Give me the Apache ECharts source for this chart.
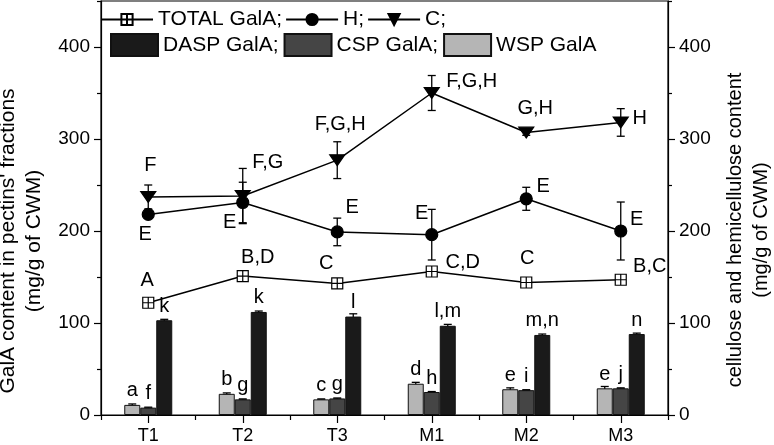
<!DOCTYPE html>
<html>
<head>
<meta charset="utf-8">
<script src="https://cdn.jsdelivr.net/npm/echarts@6/dist/echarts.min.js"></script>
<style>
html,body{margin:0;padding:0;background:#fff;}
#chart{width:774px;height:445px;}
</style>
</head>
<body>
<div id="chart"></div>
<script>
// ---- data ----
const categories = ['T1', 'T2', 'T3', 'M1', 'M2', 'M3'];
const wspGalA = [11, 23, 17, 34, 28, 29];
const wspErr = [1, 1, 0.5, 1.5, 1.5, 2];
const cspGalA = [8, 17, 18, 25, 27, 29];
const cspErr = [0.5, 0.5, 0.5, 0.5, 0.5, 0.5];
const daspGalA = [103, 112, 107, 97, 87, 88];
const daspErr = [1, 1, 3, 1.5, 1, 1];
const totalGalA = [122, 151, 143, 156, 144, 147];
const totalErr = [3, 3, 3, 3, 3, 3];
const hValues = [218, 231, 199, 196, 235, 200];
const hErr = [2, 22, 15, 27.5, 12.5, 31.5];
const cValues = [237, 238, 277, 350, 307, 318];
const cErr = [13, 30, 20, 19, 3, 15];
const wspLetters = ['a', 'b', 'c', 'd', 'e', 'e'];
const cspLetters = ['f', 'g', 'g', 'h', 'i', 'j'];
const daspLetters = ['k', 'k', 'l', 'l,m', 'm,n', 'n'];
const totalLetters = ['A', 'B,D', 'C', 'C,D', 'C', 'B,C'];
const hLetters = ['E', 'E', 'E', 'E', 'E', 'E'];
const cLetters = ['F', 'F,G', 'F,G,H', 'F,G,H', 'G,H', 'H'];
const yTickValues = [0, 100, 200, 300, 400];
const yMinorValues = [50, 150, 250, 350, 450];

// ---- layout (label offsets in px) ----
const cOff = [[2, -31], [25, -34], [3, -36], [40, -12], [9, -24], [19, -4]];
const hOff = [[-3, 20], [-13, 20], [15, -24], [-10, -21], [17, -12], [16, -12]];
const tOff = [[-1, -22], [15, -19], [-11, -20], [31, -9], [1, -24], [29, -13]];

const FONT = '"Liberation Sans", Arial, Helvetica, sans-serif';
const chart = echarts.init(document.getElementById('chart'), null, {renderer: 'canvas'});

function errSeries(vals, errs, offset, z) {
  return {
    type: 'custom',
    z: z,
    silent: true,
    data: vals.map((v, i) => [i, v, errs[i]]),
    renderItem: function (params, api) {
      const x = api.value(0), y = api.value(1), e = api.value(2);
      const top = api.coord([x, y + e]);
      const bot = api.coord([x, y - e]);
      const cx = top[0] + offset;
      const hw = 4;
      const st = {stroke: '#000', lineWidth: 1.3};
      return {
        type: 'group',
        children: [
          {type: 'line', shape: {x1: cx, y1: top[1], x2: cx, y2: bot[1]}, style: st},
          {type: 'line', shape: {x1: cx - hw, y1: top[1], x2: cx + hw, y2: top[1]}, style: st},
          {type: 'line', shape: {x1: cx - hw, y1: bot[1], x2: cx + hw, y2: bot[1]}, style: st}
        ]
      };
    }
  };
}

function barSeries(name, vals, letters, color) {
  return {
    name: name,
    type: 'bar',
    barWidth: 16,
    barGap: '0%',
    z: 2,
    data: vals,
    itemStyle: {color: color, borderColor: '#111', borderWidth: 1},
    label: {
      show: true, position: 'top', distance: 4,
      formatter: p => letters[p.dataIndex],
      color: '#000', fontSize: 20, fontFamily: FONT
    }
  };
}

function lineSeries(name, vals, letters, offs, symbol, size, fill) {
  return {
    name: name,
    type: 'line',
    z: 4,
    symbol: symbol,
    symbolSize: size,
    symbolKeepAspect: true,
    lineStyle: {color: '#000', width: 1.5},
    itemStyle: {color: fill, borderColor: '#000', borderWidth: 1.2},
    data: vals.map((v, i) => ({value: v, label: {offset: offs[i]}})),
    label: {
      show: true, position: 'inside',
      formatter: p => letters[p.dataIndex],
      color: '#000', fontSize: 20, fontFamily: FONT,
      textBorderWidth: 0
    }
  };
}

const yMain = (pos) => ({
  type: 'value', position: pos, min: 0, max: 450, interval: 50,
  splitLine: {show: false},
  axisLine: {show: true, lineStyle: {color: '#000', width: 1.2}},
  axisTick: {show: true, length: 7, customValues: yTickValues, lineStyle: {color: '#000', width: 1.2}},
  axisLabel: {show: true, customValues: yTickValues, color: '#000', fontSize: 19, fontFamily: FONT, margin: 11}
});
const yMinor = (pos) => ({
  type: 'value', position: pos, min: 0, max: 450, interval: 50,
  splitLine: {show: false},
  axisLine: {show: false},
  axisTick: {show: true, length: 4, customValues: yMinorValues, lineStyle: {color: '#000', width: 1.2}},
  axisLabel: {show: false}
});

const option = {
  backgroundColor: '#fff',
  animation: false,
  grid: {left: 101, right: 106, top: 1, bottom: 28, show: true, borderColor: '#000', borderWidth: 1.2, backgroundColor: 'transparent'},
  legend: [
    {
      data: ['TOTAL GalA', 'H', 'C'],
      left: 95, top: 4, itemWidth: 52, itemHeight: 14, itemGap: 3,
      selectedMode: false,
      formatter: n => n + ';',
      textStyle: {color: '#000', fontSize: 21, fontFamily: FONT}
    },
    {
      data: ['DASP GalA', 'CSP GalA', 'WSP GalA'],
      left: 105, top: 28, itemWidth: 47, itemHeight: 22, itemGap: 5,
      icon: 'rect',
      selectedMode: false,
      formatter: n => n === 'WSP GalA' ? n : n + ';',
      textStyle: {color: '#000', fontSize: 21, fontFamily: FONT}
    }
  ],
  xAxis: [
    {
      type: 'category', data: categories, position: 'bottom',
      axisLine: {show: true, lineStyle: {color: '#000', width: 1.2}},
      axisTick: {show: true, alignWithLabel: true, length: 8, lineStyle: {color: '#000', width: 1.2}},
      axisLabel: {color: '#000', fontSize: 18, fontFamily: FONT, margin: 12},
      splitLine: {show: false}
    },
    {
      type: 'category', data: categories, position: 'bottom',
      axisLine: {show: false},
      axisTick: {show: true, length: 5, lineStyle: {color: '#000', width: 1.2}},
      axisLabel: {show: false},
      splitLine: {show: false}
    }
  ],
  yAxis: [yMain('left'), yMinor('left'), yMain('right'), yMinor('right')],
  graphic: [
    {
      type: 'text', x: 21, y: 241, rotation: Math.PI / 2,
      style: {
        text: "GalA content in pectins' fractions\n(mg/g of CWM)",
        fill: '#000', fontSize: 21, fontFamily: FONT, lineHeight: 26,
        align: 'center', verticalAlign: 'middle'
      }
    },
    {
      type: 'text', x: 748, y: 230, rotation: Math.PI / 2,
      style: {
        text: 'cellulose and hemicellulose content\n(mg/g of CWM)',
        fill: '#000', fontSize: 20, fontFamily: FONT, lineHeight: 26,
        align: 'center', verticalAlign: 'middle'
      }
    }
  ],
  series: [
    errSeries(wspGalA, wspErr, -16, 1),
    errSeries(cspGalA, cspErr, 0, 1),
    errSeries(daspGalA, daspErr, 16, 1),
    barSeries('WSP GalA', wspGalA, wspLetters, '#b5b5b5'),
    barSeries('CSP GalA', cspGalA, cspLetters, '#454545'),
    barSeries('DASP GalA', daspGalA, daspLetters, '#1a1a1a'),
    errSeries(totalGalA, totalErr, 0, 3),
    errSeries(hValues, hErr, 0, 3),
    errSeries(cValues, cErr, 0, 3),
    lineSeries('TOTAL GalA', totalGalA, totalLetters, tOff, 'path://M0,0H10V10H0ZM5,0V10M0,5H10', 11, '#fff'),
    lineSeries('H', hValues, hLetters, hOff, 'circle', 12, '#000'),
    lineSeries('C', cValues, cLetters, cOff, 'path://M0,0L12,0L6,10Z', [15, 13], '#000')
  ]
};
chart.setOption(option);
</script>
</body>
</html>
